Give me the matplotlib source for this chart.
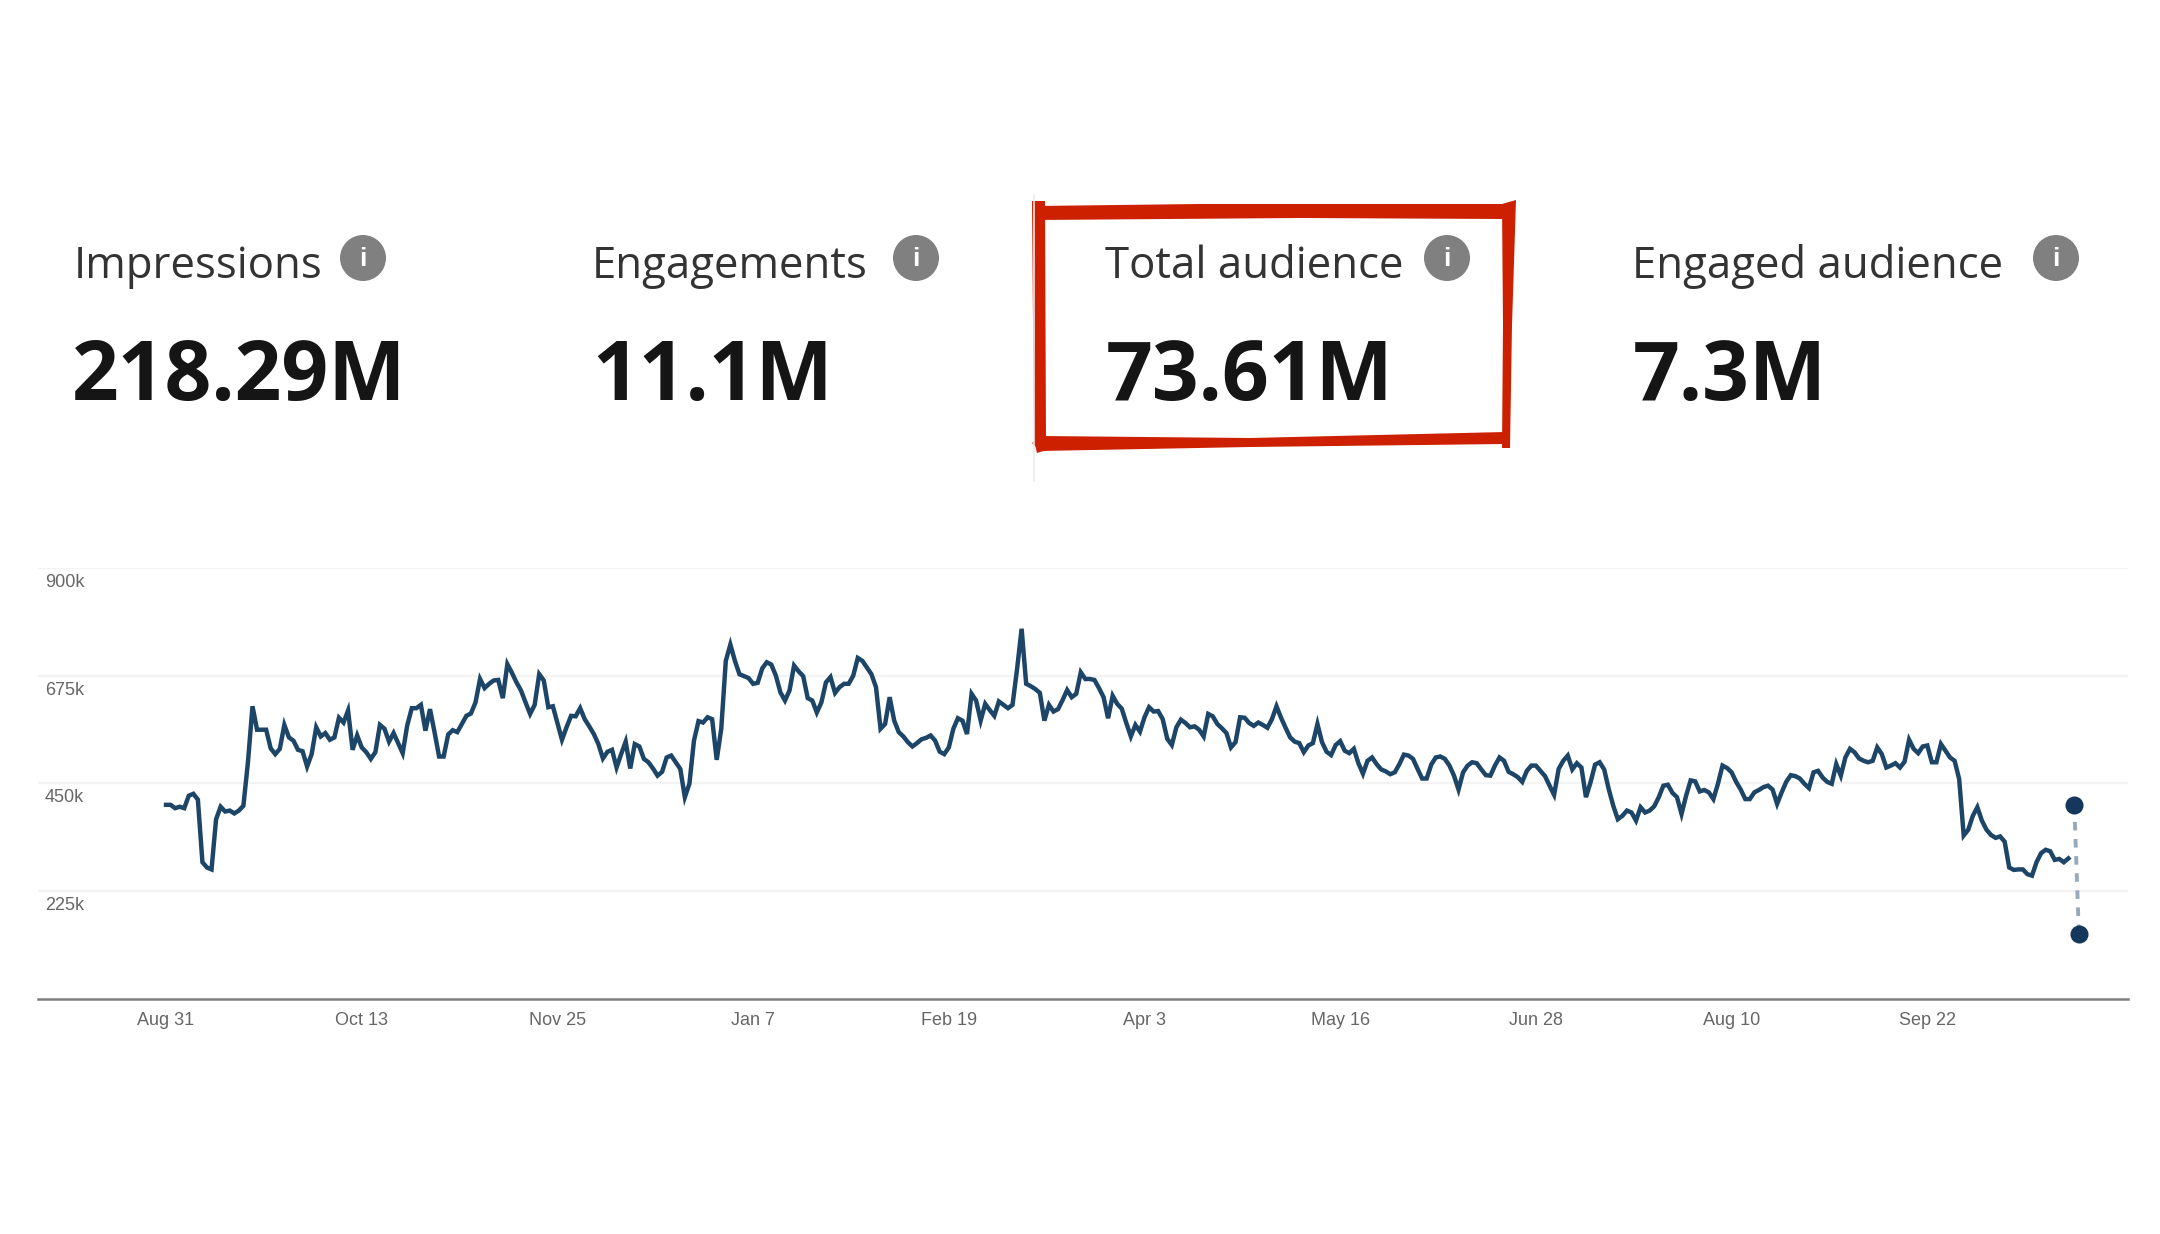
import matplotlib
matplotlib.use("Agg")
import matplotlib.pyplot as plt
from matplotlib.patches import Circle, Polygon
import numpy as np

# --- KPI header ---
kpi_labels = ["Impressions", "Engagements", "Total audience", "Engaged audience"]
kpi_values = ["218.29M", "11.1M", "73.61M", "7.3M"]
label_x = [74, 592, 1105, 1632]
value_x = [72, 592, 1106, 1633]
icon_x = [363, 916, 1447, 2056]

# --- audience per day (thousands), one list per tick interval ---
aug_oct = [405, 405, 398, 401, 398, 424, 428, 416, 285, 274, 270, 375, 401, 391, 393,
           387, 393, 403, 494, 611, 562, 562, 562, 523, 511, 522, 572, 546, 539, 520,
           517, 485, 511, 567, 548, 555, 541, 546, 587, 577, 602, 520, 550]
oct_nov = [525, 515, 501, 515, 572, 564, 537, 555, 534, 513, 571, 607, 607, 614, 560,
           605, 557, 506, 506, 552, 561, 557, 574, 591, 596, 619, 668, 649, 658, 665,
           666, 628, 699, 681, 661, 644, 619, 595, 614, 678, 665, 609, 611]
nov_jan = [576, 541, 567, 591, 590, 607, 584, 569, 553, 532, 502, 516, 520, 483, 511,
           537, 481, 532, 527, 501, 494, 481, 466, 474, 504, 508, 494, 480, 421, 449,
           539, 580, 577, 588, 584, 499, 564, 706, 740, 706, 678, 674, 670]
jan_feb = [658, 660, 690, 703, 698, 675, 640, 623, 644, 696, 684, 674, 628, 623, 598,
           619, 661, 672, 639, 651, 658, 658, 675, 712, 706, 692, 678, 651, 564, 574,
           630, 581, 557, 548, 536, 527, 534, 542, 545, 550, 539, 516, 511]
feb_apr = [525, 564, 586, 581, 553, 637, 623, 581, 616, 603, 591, 621, 614, 607, 614,
           689, 773, 658, 653, 647, 639, 581, 614, 600, 605, 624, 645, 630, 637, 682,
           668, 668, 666, 649, 630, 586, 633, 616, 606, 576, 548, 572, 558]
apr_may = [588, 609, 600, 601, 584, 543, 530, 567, 583, 576, 567, 569, 562, 548, 595,
           590, 574, 565, 555, 525, 536, 588, 587, 576, 570, 577, 572, 566, 584, 611,
           587, 566, 546, 537, 534, 515, 529, 534, 574, 536, 516, 509, 530]
may_jun = [538, 518, 513, 522, 492, 470, 497, 504, 490, 479, 475, 469, 473, 490, 510,
           508, 501, 480, 460, 460, 489, 504, 506, 501, 487, 466, 437, 473, 487, 494,
           492, 479, 467, 466, 487, 504, 497, 474, 469, 463, 453, 476, 487]
jun_aug = [487, 476, 465, 445, 426, 480, 497, 508, 479, 492, 483, 421, 452, 489, 494,
           479, 438, 403, 375, 382, 393, 389, 372, 400, 389, 393, 402, 421, 445, 447,
           430, 421, 386, 424, 456, 454, 433, 436, 431, 417, 449, 487, 482]
aug_sep = [473, 453, 437, 417, 417, 431, 436, 442, 445, 437, 407, 431, 453, 467, 465,
           460, 449, 440, 473, 476, 462, 453, 449, 490, 466, 504, 522, 515, 502, 497,
           494, 497, 525, 511, 483, 487, 492, 483, 495, 541, 522, 513, 527]
sep_oct = [529, 494, 494, 532, 518, 504, 497, 459, 341, 353, 382, 400, 372, 353, 342,
           336, 339, 328, 274, 269, 270, 270, 260, 257, 285, 304, 311, 308, 290, 292,
           285, 293]

# the two dots joined by the dashed line at the right end
marker_days = [419.3, 420.3]
marker_vals = [405, 136]

tick_days = [0, 43, 86, 129, 172, 215, 258, 301, 344, 387]
tick_labels = ["Aug 31", "Oct 13", "Nov 25", "Jan 7", "Feb 19",
               "Apr 3", "May 16", "Jun 28", "Aug 10", "Sep 22"]
y_ticks = [225, 450, 675, 900]
y_labels = ["225k", "450k", "675k", "900k"]

W, H = 2160, 1234
LINE = "#1c4568"
DOT = "#15375c"
RED = "#cc2000"

audience = aug_oct + oct_nov + nov_jan + jan_feb + feb_apr + apr_may + may_jun + jun_aug + aug_sep + sep_oct
days = np.arange(len(audience))

fig = plt.figure(figsize=(W / 100, H / 100), dpi=100, facecolor="white")

# chart axes, placed in pixels
top, bottom, left, right = 568.0, 998.6, 38, 2128
ax = fig.add_axes([left / W, 1 - bottom / H, (right - left) / W, (bottom - top) / H])
ax.plot(days, audience, color=LINE, lw=3.2, solid_joinstyle="miter", zorder=3)
ax.plot(marker_days, marker_vals, color="#98a9ba", lw=2.8, ls=(0, (2.2, 2.2)), zorder=2)
ax.plot(marker_days, marker_vals, "o", color=DOT, ms=13, mew=0, zorder=4)
ax.set_xlim(-28.13, 431.1)
ax.set_ylim(0, 900)
ax.set_yticks(y_ticks)
ax.set_yticklabels([])
ax.set_xticks(tick_days)
ax.set_xticklabels(tick_labels, fontfamily="Liberation Sans", fontsize=13, color="#666666")
ax.tick_params(axis="both", length=0)
ax.tick_params(axis="x", pad=10)
ax.grid(axis="y", color="#f3f3f3", lw=1.6)
ax.set_axisbelow(True)
for side in ["top", "left", "right"]:
    ax.spines[side].set_visible(False)
ax.spines["bottom"].set_color("#7f7f7f")
ax.spines["bottom"].set_linewidth(1.8)
ax.patch.set_alpha(0)
for val, lab in zip(y_ticks, y_labels):
    ax.annotate(lab, (0, val), xycoords=("axes fraction", "data"), xytext=(5, -10.5),
                textcoords="offset points", fontfamily="Liberation Sans", fontsize=13,
                color="#666666", ha="left", va="center")

# overlay in pixel coordinates for the header and the hand drawn box
ov = fig.add_axes([0, 0, 1, 1], zorder=5)
ov.set_xlim(0, W)
ov.set_ylim(H, 0)
ov.axis("off")

ov.plot([1034, 1034], [195, 481], color="#ececec", lw=1.2)

for i in range(4):
    ov.text(label_x[i], 278, kpi_labels[i], fontfamily="Open Sans", fontsize=31.5,
            color="#333333", ha="left", va="baseline")
    ov.text(value_x[i], 400, kpi_values[i], fontfamily="Open Sans", fontweight="bold",
            fontsize=59, color="#151515", ha="left", va="baseline")
    ov.add_patch(Circle((icon_x[i], 258), 23, color="#808080", lw=0))
    ov.text(icon_x[i], 259, "i", fontfamily="Liberation Sans", fontweight="bold", fontsize=19,
            color="white", ha="center", va="center")

# red marker rectangle, a bit uneven like the original
ov.add_patch(Polygon([(1036, 206), (1200, 204), (1510, 204), (1505, 219), (1300, 218), (1036, 220)],
                     closed=True, color=RED, lw=0))
ov.add_patch(Polygon([(1032, 201), (1045, 201), (1046, 440), (1050, 449), (1037, 453), (1034, 440)],
                     closed=True, color=RED, lw=0))
ov.add_patch(Polygon([(1502, 204), (1516, 200), (1512, 325), (1510, 448), (1502, 448), (1503, 325)],
                     closed=True, color=RED, lw=0))
ov.add_patch(Polygon([(1032, 443), (1040, 436), (1250, 438), (1505, 432), (1506, 444), (1250, 447), (1040, 451)],
                     closed=True, color=RED, lw=0))

fig.savefig("out.png", dpi=100)
